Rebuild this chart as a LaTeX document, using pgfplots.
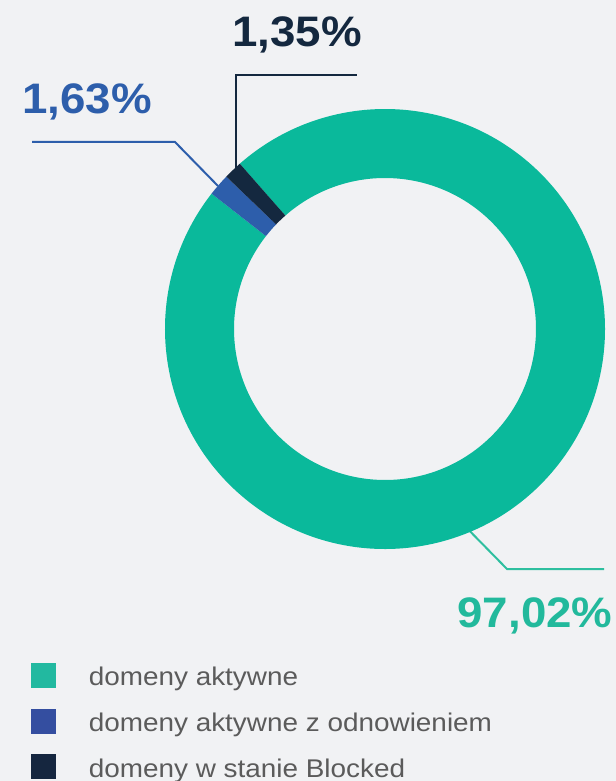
\documentclass[border=0pt]{standalone}
\usepackage{pgfplots}
\pgfplotsset{compat=1.18}
\usepackage{pgfplotstable}
\usepackage{fontspec}
\setmainfont{Liberation Sans}
\newfontfamily\lblfont[FakeStretch=1.07]{Liberation Sans}
\newfontfamily\legfont[FakeStretch=1.09]{Liberation Sans}

\definecolor{bgc}{HTML}{F1F2F4}
\definecolor{segteal}{HTML}{0AB99B}
\definecolor{segblue}{HTML}{2D5EAB}
\definecolor{segdark}{HTML}{14283F}
\definecolor{legteal}{HTML}{22B9A0}
\definecolor{legblue}{HTML}{344EA0}
\definecolor{legdark}{HTML}{15263F}
\definecolor{lblteal}{HTML}{22B99C}
\definecolor{lineteal}{HTML}{2EBF9F}
\definecolor{legtext}{HTML}{5B5B5B}

% one ring segment, drawn at the data point (centre of the donut)
\pgfdeclareplotmark{ring}{%
  \pgfmathsetmacro\segA{\segstart}%
  \pgfmathsetmacro\segB{\segstart+3.6*\segpct}%
  \pgfpathmoveto{\pgfpointpolar{\segA}{165pt}}%
  \pgfpatharc{\segA}{\segB}{165pt}%
  \pgfpathlineto{\pgfpointpolar{\segB}{113.25pt}}%
  \pgfpatharc{\segB}{\segA}{113.25pt}%
  \pgfpathclose
  \pgfusepathqfill
}

% x y: centre in px, pct: share, start: start angle
\pgfplotstableread{
x y pct start
385 329 97.02 142.03
}\tealseg
\pgfplotstableread{
x y pct start
385 329 1.63 136.16
}\blueseg
\pgfplotstableread{
x y pct start
385 329 1.35 131.3
}\darkseg

\begin{document}
\begin{tikzpicture}
\begin{axis}[
  scale only axis, width=462pt, height=585.75pt,
  xmin=0, xmax=616, ymin=0, ymax=781, y dir=reverse,
  hide axis, clip=false,
  legend cell align=left,
  legend style={at={(0.0503,0.1511)}, anchor=north west, draw=none, fill=none,
    inner sep=0pt, row sep=13.25pt,
    nodes={inner sep=0pt, text height=16pt, text depth=4pt,
      font=\legfont\fontsize{19.2}{22}\selectfont, text=legtext},
    /tikz/every odd column/.append style={column sep=24.75pt}},
  ring/.style={only marks, mark=ring,
    visualization depends on={\thisrow{pct}\as\segpct},
    visualization depends on={\thisrow{start}\as\segstart}},
]
\fill[bgc] (rel axis cs:0,0) rectangle (rel axis cs:1,1);

\addplot[ring, color=segteal,
  legend image code/.code={\fill[legteal] (0pt,-7.25pt) rectangle (18pt,10.75pt);}]
  table {\tealseg};
\addlegendentry{domeny aktywne}
\addplot[ring, color=segblue,
  legend image code/.code={\fill[legblue] (0pt,-7.25pt) rectangle (18pt,10.75pt);}]
  table {\blueseg};
\addlegendentry{domeny aktywne z odnowieniem}
\addplot[ring, color=segdark,
  legend image code/.code={\fill[legdark] (0pt,-7.25pt) rectangle (18pt,10.75pt);}]
  table {\darkseg};
\addlegendentry{domeny w stanie Blocked}

% leader lines
\addplot[forget plot, segdark, line width=1.5pt, no marks] coordinates {(236,168) (236,75) (357,75)};
\addplot[forget plot, segblue, line width=1.5pt, no marks] coordinates {(218,186) (175,142) (32,142)};
\addplot[forget plot, lineteal, line width=1.5pt, no marks] coordinates {(455,516) (507,569) (604,569)};

\node[anchor=base, inner sep=0pt, text=segdark, font=\lblfont\bfseries\fontsize{32}{36}\selectfont] at (axis cs:297,47) {1,35\%};
\node[anchor=base, inner sep=0pt, text=segblue, font=\lblfont\bfseries\fontsize{32}{36}\selectfont] at (axis cs:87,114) {1,63\%};
\node[anchor=base, inner sep=0pt, text=lblteal, font=\lblfont\bfseries\fontsize{32}{36}\selectfont] at (axis cs:535,627) {97,02\%};
\end{axis}
\pgfresetboundingbox
\path (current axis.south west) rectangle (current axis.north east);
\end{tikzpicture}
\end{document}
